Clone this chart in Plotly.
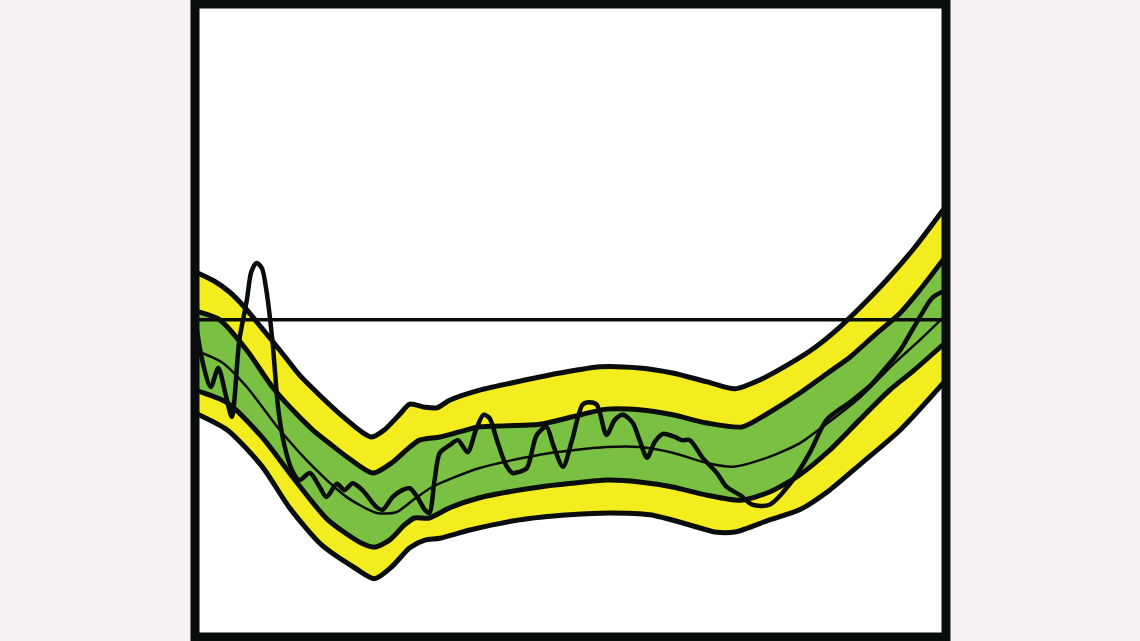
import plotly.graph_objects as go

# ---- data (x: 0-100 along the axis, y: 0-100 up the axis) ----
x_yel_up = [0, 2.6, 4.6, 6.6, 8.9, 11.3, 13.9, 16.6, 19.9, 22.2, 23.5, 25.2, 27.2, 28.6, 30.6, 32.2, 33.9, 37.9, 43.2, 48.6, 53.9, 59.2, 63.6, 68.2, 71.9, 75.2, 78.5, 82.5, 85.9, 89.2, 92.1, 95.8, 100]
y_yel_up = [57.7, 56.2, 54.5, 52.1, 48.8, 45.3, 41.4, 38.2, 34.6, 32.4, 31.6, 32.7, 35.1, 36.8, 36.3, 36.2, 37.4, 39.0, 40.4, 41.7, 42.7, 42.5, 41.7, 40.3, 39.2, 40.6, 42.7, 45.7, 49.0, 52.8, 56.4, 61.5, 68.1]

x_grn_up = [0, 3.3, 6.9, 10.3, 13.3, 15.7, 17.9, 20.3, 23.7, 26.3, 28.6, 29.9, 32.6, 35.2, 37.9, 45.9, 50.3, 54.8, 59.2, 63.6, 68.2, 72.9, 76.5, 80.5, 83.9, 87.2, 90.5, 93.9, 96.5, 100]
y_grn_up = [51.5, 50.1, 45.3, 39.5, 35.5, 32.7, 30.6, 28.4, 25.9, 27.6, 30.0, 31.1, 31.6, 32.4, 33.2, 33.6, 34.8, 36.0, 35.9, 35.1, 33.8, 33.2, 35.5, 38.5, 41.4, 44.2, 47.7, 51.2, 54.8, 60.2]

x_median = [0, 3.7, 6.9, 11.3, 15.7, 20.2, 24.2, 26.8, 29.0, 31.6, 37.9, 45.9, 50.3, 54.8, 59.2, 63.6, 68.2, 71.6, 76.1, 80.5, 83.9, 88.5, 92.9, 96.5, 100]
y_median = [45.3, 43.3, 39.5, 32.7, 26.9, 22.1, 19.6, 19.7, 21.6, 23.7, 26.7, 28.8, 29.5, 30.0, 30.0, 29.1, 27.5, 26.9, 28.3, 30.6, 33.5, 37.8, 43.0, 46.9, 50.9]

x_grn_lo = [0, 4.3, 8.9, 13.3, 17.7, 22.2, 23.9, 25.9, 27.9, 29.2, 31.2, 33.9, 37.9, 45.9, 50.3, 54.8, 59.2, 63.6, 68.2, 72.6, 76.5, 80.5, 84.5, 88.5, 92.5, 95.8, 100]
y_grn_lo = [39.0, 37.0, 31.6, 24.8, 18.5, 14.8, 14.2, 15.3, 17.7, 18.8, 18.8, 20.4, 22.0, 23.7, 24.3, 24.8, 24.5, 23.7, 22.4, 21.6, 22.9, 25.6, 29.5, 34.3, 39.0, 42.2, 46.6]

x_yel_lo = [0, 4.3, 8.9, 12.6, 16.9, 21.3, 23.9, 26.2, 28.6, 30.6, 32.6, 36.6, 43.2, 49.9, 55.2, 60.6, 65.9, 69.2, 71.9, 76.5, 80.5, 84.5, 88.5, 93.9, 100]
y_yel_lo = [35.4, 32.7, 27.0, 20.4, 14.5, 10.9, 9.2, 11.1, 14.1, 15.3, 15.6, 16.9, 18.5, 19.3, 19.6, 19.3, 17.7, 16.6, 16.6, 18.5, 20.1, 23.2, 27.2, 32.7, 40.6]

x_obs = [0, 1.1, 2.1, 3.1, 4.1, 4.9, 5.9, 6.9, 7.5, 8.2, 8.9, 9.5, 10.3, 11.1, 11.9, 12.9, 13.9, 15.3, 16.6, 17.5, 18.9, 19.9, 21.0, 22.3, 24.2, 25.0, 26.3, 27.6, 28.6, 29.6, 30.6, 31.2, 31.9, 32.6, 33.9, 35.0, 36.3, 37.4, 38.4, 39.2, 40.2, 41.4, 42.3, 43.2, 44.2, 45.5, 46.8, 47.7, 49.0, 50.2, 51.6, 52.5, 53.5, 54.8, 55.9, 57.0, 58.3, 59.2, 60.2, 61.2, 62.3, 63.9, 64.8, 65.9, 67.6, 69.5, 70.8, 72.6, 74.2, 76.5, 79.6, 81.9, 84.1, 87.2, 89.9, 92.1, 93.9, 95.5, 96.9, 98.2, 100]
y_obs = [50.4, 43.0, 39.5, 42.5, 38.2, 34.8, 46.9, 53.2, 57.7, 59.1, 58.3, 54.8, 46.9, 35.9, 30.3, 26.4, 24.8, 25.9, 23.7, 22.1, 24.2, 23.2, 24.3, 23.2, 20.5, 20.1, 22.1, 23.2, 23.5, 22.1, 20.1, 19.6, 24.8, 29.1, 30.3, 31.1, 29.2, 32.7, 35.1, 34.6, 31.1, 27.2, 25.9, 26.1, 26.7, 31.9, 33.2, 30.3, 26.9, 31.1, 36.7, 37.1, 36.7, 31.9, 34.3, 35.1, 33.8, 31.1, 28.3, 30.8, 32.1, 31.6, 31.1, 31.1, 28.3, 25.9, 23.7, 22.4, 20.9, 20.9, 24.8, 29.2, 34.3, 37.1, 39.7, 42.7, 45.3, 48.5, 51.3, 53.6, 54.8]

x_ref = [0, 100]
y_ref = [50.1, 50.1]

YELLOW = "#f3ec1e"
GREEN = "#7ac143"
BLACK = "#0a0d0d"
PAGE = "#f8f2f2"
SM = 0.7

fig = go.Figure()

# yellow band
fig.add_trace(go.Scatter(x=x_yel_lo, y=y_yel_lo, mode="lines",
                         line=dict(width=0, shape="spline", smoothing=SM), showlegend=False, hoverinfo="skip"))
fig.add_trace(go.Scatter(x=x_yel_up, y=y_yel_up, mode="lines", fill="tonexty", fillcolor=YELLOW,
                         line=dict(width=0, shape="spline", smoothing=SM), showlegend=False, hoverinfo="skip"))
# green band
fig.add_trace(go.Scatter(x=x_grn_lo, y=y_grn_lo, mode="lines",
                         line=dict(width=0, shape="spline", smoothing=SM), showlegend=False, hoverinfo="skip"))
fig.add_trace(go.Scatter(x=x_grn_up, y=y_grn_up, mode="lines", fill="tonexty", fillcolor=GREEN,
                         line=dict(width=0, shape="spline", smoothing=SM), showlegend=False, hoverinfo="skip"))

# band outlines
for xs, ys in [(x_yel_lo, y_yel_lo), (x_yel_up, y_yel_up), (x_grn_lo, y_grn_lo), (x_grn_up, y_grn_up)]:
    fig.add_trace(go.Scatter(x=xs, y=ys, mode="lines",
                             line=dict(color=BLACK, width=5, shape="spline", smoothing=SM),
                             showlegend=False, hoverinfo="skip"))

# median (expected)
fig.add_trace(go.Scatter(x=x_median, y=y_median, mode="lines",
                         line=dict(color=BLACK, width=2.5, shape="spline", smoothing=SM),
                         showlegend=False, hoverinfo="skip"))

# reference horizontal line
fig.add_trace(go.Scatter(x=x_ref, y=y_ref, mode="lines",
                         line=dict(color=BLACK, width=3.5),
                         showlegend=False, hoverinfo="skip"))

# observed
fig.add_trace(go.Scatter(x=x_obs, y=y_obs, mode="lines",
                         line=dict(color=BLACK, width=4.5, shape="spline", smoothing=0.8),
                         showlegend=False, hoverinfo="skip"))

fig.add_shape(type="rect", xref="paper", yref="paper", x0=0, x1=1, y0=0, y1=1,
              line=dict(color=BLACK, width=9), layer="above")

axis = dict(range=[0, 100], showgrid=False, zeroline=False, showticklabels=False,
            ticks="", showline=False, fixedrange=True)
fig.update_layout(
    width=1140, height=641,
    margin=dict(l=195, r=194, t=4, b=4),
    paper_bgcolor=PAGE, plot_bgcolor="white",
    xaxis=axis, yaxis=axis,
    showlegend=False,
)

fig.write_html(
    "out.html",
    config={"displayModeBar": False},
    post_script="document.body.style.margin='0';document.body.style.padding='0';"
                "document.body.style.overflow='hidden';document.body.style.background='" + PAGE + "';",
)
